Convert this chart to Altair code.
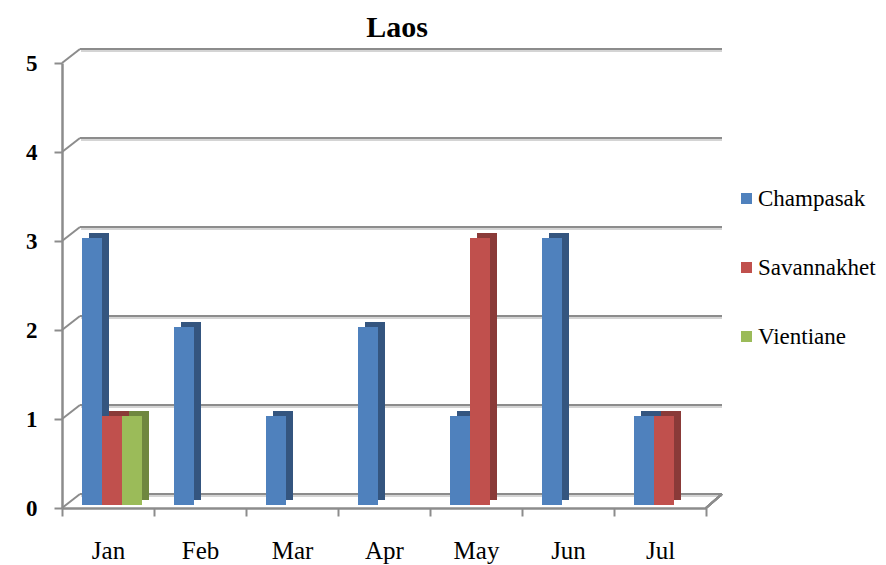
import altair as alt
import pandas as pd

months = ["Jan", "Feb", "Mar", "Apr", "May", "Jun", "Jul"]
series = ["Champasak", "Savannakhet", "Vientiane"]
champasak = [3, 2, 1, 2, 1, 3, 1]
savannakhet = [1, 0, 0, 0, 3, 0, 1]
vientiane = [1, 0, 0, 0, 0, 0, 0]
front_colors = ["#4F81BD", "#C0504D", "#9BBB59"]
side_colors = ["#34557F", "#8A3A38", "#6F873F"]
y_ticks = [0, 1, 2, 3, 4, 5]

rows = []
for s, vals, sc in zip(series, [champasak, savannakhet, vientiane], side_colors):
    for m, v in zip(months, vals):
        if v > 0:
            rows.append({"month": m, "series": s, "value": v, "side": sc})
df = pd.DataFrame(rows)
grid_df = pd.DataFrame({"value": y_ticks})

FONT = "Liberation Serif"
GRAY = "#8C8C8C"

x_enc = alt.X(
    "month:N",
    sort=months,
    scale=alt.Scale(domain=months, range=[0, 644], paddingInner=0, paddingOuter=0),
    axis=alt.Axis(
        title=None, labelAngle=0, tickBand="extent", labelFont=FONT, labelFontSize=25,
        labelColor="black", labelPadding=22, tickSize=8, tickColor=GRAY, tickWidth=2,
        domainColor=GRAY, domainWidth=2.5, grid=False,
    ),
)
y_axis = alt.Axis(
    title=None, values=y_ticks, format="d", labelFont=FONT, labelFontSize=23,
    labelFontWeight="bold", labelColor="black", labelPadding=17, tickSize=8,
    tickColor=GRAY, tickWidth=2, domainColor=GRAY, domainWidth=2.5, grid=False,
)
y_enc = alt.Y("value:Q", scale=alt.Scale(domain=[0, 5], nice=False), axis=y_axis)

grid_light = alt.Chart(grid_df).mark_rule(color="#D4D4D4", strokeWidth=2, yOffset=-12).encode(
    x=alt.value(19), x2=alt.value(660), y=y_enc
)
grid_dark = alt.Chart(grid_df).mark_rule(color=GRAY, strokeWidth=2, yOffset=-14).encode(
    x=alt.value(18), x2=alt.value(660), y=y_enc
)
grid_diag = alt.Chart(grid_df).mark_rule(color=GRAY, strokeWidth=2, y2Offset=-14).encode(
    x=alt.value(0), x2=alt.value(18), y=y_enc, y2="value:Q"
)
floor_edge = alt.Chart(grid_df).mark_rule(color=GRAY, strokeWidth=2).encode(
    x=alt.value(644), x2=alt.value(660), y=alt.value(445), y2=alt.value(431)
)

side = alt.Chart(df).mark_bar(yOffset=-8).encode(
    x=x_enc,
    xOffset=alt.XOffset(
        "series:N",
        scale=alt.Scale(domain=series, range=[27, 87], paddingInner=0, paddingOuter=0),
    ),
    y=y_enc,
    color=alt.Color("side:N", scale=None),
)
front = alt.Chart(df).mark_bar(yOffset=-3).encode(
    x=x_enc,
    xOffset=alt.XOffset(
        "series:N",
        scale=alt.Scale(domain=series, range=[20, 80], paddingInner=0, paddingOuter=0),
    ),
    y=y_enc,
    color=alt.Color(
        "series:N",
        scale=alt.Scale(domain=series, range=front_colors),
        legend=alt.Legend(
            title=None, orient="none", legendX=673, legendY=124, symbolType="square",
            symbolSize=121, symbolStrokeWidth=0, labelFont=FONT, labelFontSize=23,
            labelColor="black", rowPadding=45, padding=0, labelOffset=0,
        ),
    ),
)

chart = alt.layer(grid_light, grid_dark, grid_diag, floor_edge, side, front).resolve_scale(
    xOffset="independent"
).properties(
    width=660,
    height=445,
    padding={"left": 54, "top": 55, "right": 156, "bottom": 57},
    autosize=alt.AutoSizeParams(type="none"),
    background="white",
    title=alt.TitleParams(
        "Laos", font=FONT, fontSize=30, fontWeight="bold", color="black",
        anchor="middle", offset=5, dx=5,
    ),
).configure_view(stroke=None)

chart.save("out.html", embed_options={"renderer": "svg", "actions": False})
